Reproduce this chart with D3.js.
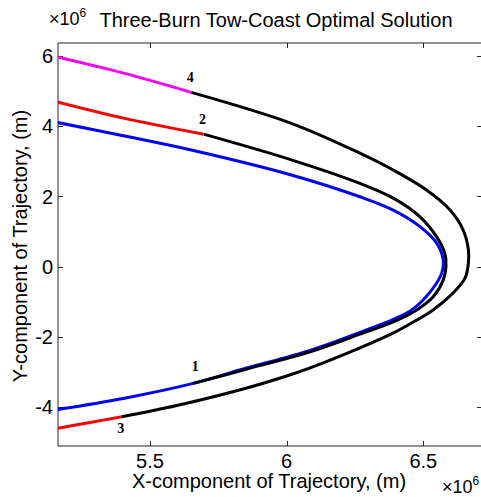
<!DOCTYPE html>
<html>
<head>
<meta charset="utf-8">
<script src="https://cdn.jsdelivr.net/npm/d3@7"></script>
<style>
  html, body { margin: 0; padding: 0; background: #fff; }
  svg { display: block; }
</style>
</head>
<body>
<svg id="chart" width="481" height="497"></svg>
<script>
// ---- Data (units of 1e6 m) ----
const xTicks = [5.5, 6, 6.5];
const yTicks = [-4, -2, 0, 2, 4, 6];
const xTickLabels = ["5.5", "6", "6.5"];
const yTickLabels = ["-4", "-2", "0", "2", "4", "6"];

// initial orbit (blue)
const blueOrbit = [
  [5.163, 4.10], [5.407, 3.72], [5.651, 3.32], [6.017, 2.61], [6.268, 1.99],
  [6.390, 1.61], [6.488, 1.14], [6.549, 0.67], [6.573, 0.19], [6.567, -0.19],
  [6.531, -0.66], [6.463, -1.20], [6.390, -1.50], [6.268, -1.87], [6.086, -2.38],
  [5.841, -2.91], [5.658, -3.32], [5.407, -3.74], [5.163, -4.06]
];
// coast arc from burn 1 to burn 2 (black, inner)
const coastInner = [
  [5.658, -3.32], [5.841, -2.94], [6.086, -2.42], [6.268, -1.92], [6.390, -1.57],
  [6.476, -1.23], [6.537, -0.85], [6.573, -0.38], [6.583, 0.0], [6.579, 0.38],
  [6.549, 0.85], [6.488, 1.42], [6.390, 1.95], [6.268, 2.37], [6.017, 3.04],
  [5.696, 3.77]
];
// red arc ending at burn 2
const redUpper = [[5.163, 4.68], [5.407, 4.22], [5.696, 3.77]];
// red arc ending at burn 3
const redLower = [[5.163, -4.60], [5.281, -4.43], [5.397, -4.27]];
// coast arc from burn 3 to burn 4 (black, outer)
const coastOuter = [
  [5.397, -4.27], [5.598, -3.95], [5.841, -3.48], [6.000, -3.11], [6.086, -2.88],
  [6.268, -2.31], [6.389, -1.89], [6.451, -1.63], [6.536, -1.23], [6.609, -0.75],
  [6.653, -0.32], [6.665, 0.10], [6.665, 0.48], [6.646, 1.04], [6.598, 1.61],
  [6.512, 2.18], [6.390, 2.75], [6.268, 3.23], [6.017, 4.08], [5.651, 4.96]
];
// final arc (magenta)
const magentaArc = [[5.163, 5.96], [5.407, 5.50], [5.651, 4.96]];

// burn point labels
const burnLabels = ["1", "2", "3", "4"];
const burnPoints = [[5.658, -3.32], [5.696, 3.77], [5.397, -4.27], [5.651, 4.96]];

// ---- Layout ----
const svg = d3.select("#chart");
const L = 58, R = 482, T = 43, B = 446;
const x = d3.scaleLinear().domain([5.1634, 6.7148]).range([L, R]);
const y = d3.scaleLinear().domain([-5.101, 6.364]).range([B, T]);

const font = "'Liberation Sans', Arial, Helvetica, sans-serif";
const axisColor = "#262626";

// frame
svg.append("rect")
  .attr("x", L).attr("y", T).attr("width", R - L).attr("height", B - T)
  .attr("fill", "none").attr("stroke", axisColor).attr("stroke-width", 1);

const tickLen = 5;
xTicks.forEach(v => {
  const px = Math.round(x(v)) + 0.5;
  svg.append("line").attr("x1", px).attr("x2", px).attr("y1", B).attr("y2", B - tickLen)
    .attr("stroke", axisColor);
  svg.append("line").attr("x1", px).attr("x2", px).attr("y1", T).attr("y2", T + tickLen)
    .attr("stroke", axisColor);
});
yTicks.forEach(v => {
  const py = Math.round(y(v)) + 0.5;
  svg.append("line").attr("x1", L).attr("x2", L + tickLen).attr("y1", py).attr("y2", py)
    .attr("stroke", axisColor);
  svg.append("line").attr("x1", R).attr("x2", R - tickLen).attr("y1", py).attr("y2", py)
    .attr("stroke", axisColor);
});

// tick labels
svg.append("g").selectAll("text").data(xTicks).join("text")
  .attr("x", d => x(d)).attr("y", 468)
  .attr("text-anchor", "middle")
  .attr("font-family", font).attr("font-size", 20).attr("fill", "#000")
  .text((d, i) => xTickLabels[i]);
svg.append("g").selectAll("text").data(yTicks).join("text")
  .attr("x", 53).attr("y", d => y(d))
  .attr("dy", "0.36em")
  .attr("text-anchor", "end")
  .attr("font-family", font).attr("font-size", 20).attr("fill", "#000")
  .text((d, i) => yTickLabels[i]);

// curves
const line = d3.line()
  .x(d => x(d[0])).y(d => y(d[1]))
  .curve(d3.curveCatmullRom.alpha(0.5));

svg.append("clipPath").attr("id", "clip")
  .append("rect").attr("x", L).attr("y", T).attr("width", R - L).attr("height", B - T);

const g = svg.append("g").attr("clip-path", "url(#clip)");
const series = [
  { data: blueOrbit, color: "#0000ff" },
  { data: coastInner, color: "#000000" },
  { data: redUpper, color: "#ff0000" },
  { data: redLower, color: "#ff0000" },
  { data: coastOuter, color: "#000000" },
  { data: magentaArc, color: "#ff00ff" }
];
series.forEach(s => {
  g.append("path").attr("d", line(s.data))
    .attr("fill", "none").attr("stroke", s.color)
    .attr("stroke-width", 3).attr("stroke-linejoin", "round");
});

// burn labels
const labelOffsets = [[2, -12], [-1, -10], [-1, 16], [-1, -10]];
svg.append("g").selectAll("text").data(burnPoints).join("text")
  .attr("x", (d, i) => x(d[0]) + labelOffsets[i][0])
  .attr("y", (d, i) => y(d[1]) + labelOffsets[i][1])
  .attr("text-anchor", "middle")
  .attr("font-family", "'Liberation Serif', 'Times New Roman', serif")
  .attr("font-size", 14)
  .attr("font-weight", "bold")
  .attr("fill", "#000")
  .text((d, i) => burnLabels[i]);

// title
svg.append("text")
  .attr("x", 276).attr("y", 27)
  .attr("text-anchor", "middle")
  .attr("font-family", font).attr("font-size", 20).attr("fill", "#000")
  .text("Three-Burn Tow-Coast Optimal Solution");

// axis labels
svg.append("text")
  .attr("x", 269).attr("y", 488)
  .attr("text-anchor", "middle")
  .attr("font-family", font).attr("font-size", 20).attr("fill", "#000")
  .text("X-component of Trajectory, (m)");
svg.append("text")
  .attr("transform", "translate(26.5,246) rotate(-90)")
  .attr("text-anchor", "middle")
  .attr("font-family", font).attr("font-size", 20).attr("fill", "#000")
  .text("Y-component of Trajectory, (m)");

// exponent labels
function expLabel(xp, yp) {
  const t = svg.append("text").attr("x", xp).attr("y", yp)
    .attr("font-family", font).attr("font-size", 18).attr("fill", "#000");
  t.append("tspan").text("\u00d710");
  t.append("tspan").attr("dy", -8).attr("font-size", 12).text("6");
}
expLabel(49, 25);
expLabel(442, 493);
</script>
</body>
</html>
